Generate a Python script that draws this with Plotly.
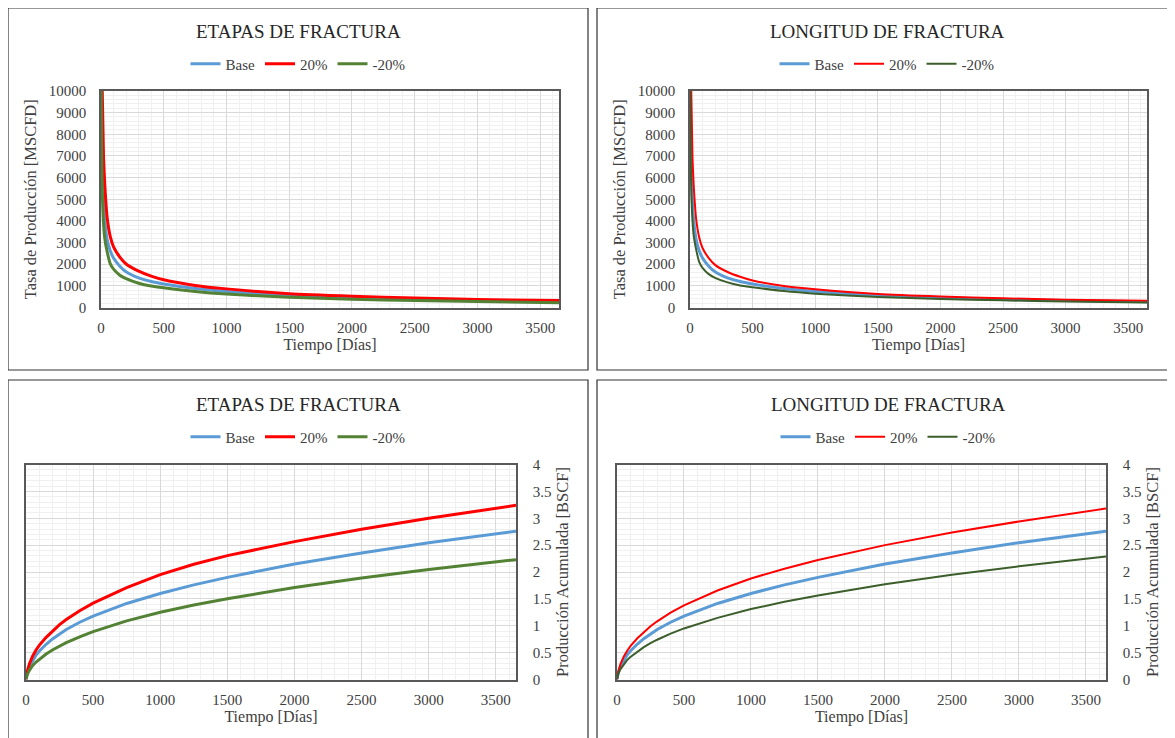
import plotly.graph_objects as go

# ---------------- data ----------------
series_names = ["Base", "20%", "-20%"]
panel_titles = ["ETAPAS DE FRACTURA", "LONGITUD DE FRACTURA"]

# Production rate [MSCFD] vs time [days]
t_rate_base = [3, 5, 10, 20, 30, 50, 75, 100, 150, 200, 300, 400, 500, 750, 1000, 1500, 2000, 2500, 3000, 3650]
q_base = [10000, 8000, 6300, 4800, 4000, 3100, 2600, 2290, 1910, 1650, 1370, 1200, 1090, 880, 740, 560, 455, 375, 318, 270]

t_rate_up = [10, 20, 30, 50, 75, 100, 150, 200, 300, 400, 500, 750, 1000, 1500, 2000, 2500, 3000, 3650]
q_etapas_up = [10000, 7000, 5700, 4100, 3250, 2800, 2330, 2010, 1680, 1450, 1280, 1020, 860, 640, 525, 435, 370, 320]
q_longitud_up = [10000, 6900, 5600, 4050, 3200, 2750, 2280, 1970, 1640, 1420, 1250, 990, 840, 625, 510, 425, 360, 312]

t_rate_down = [2, 5, 10, 20, 30, 50, 75, 100, 150, 200, 300, 400, 500, 750, 1000, 1500, 2000, 2500, 3000, 3650]
q_etapas_down = [10000, 7200, 5400, 3900, 3200, 2550, 2000, 1770, 1490, 1330, 1120, 990, 910, 740, 620, 476, 385, 320, 272, 225]
q_longitud_down = [10000, 7300, 5500, 4000, 3300, 2650, 2080, 1830, 1540, 1370, 1160, 1020, 940, 760, 640, 490, 395, 330, 280, 232]

# Cumulative production [BSCF] vs time [days]
t_cum = [0, 5, 10, 25, 50, 75, 100, 150, 200, 250, 300, 400, 500, 750, 1000, 1250, 1500, 2000, 2500, 3000, 3650]
cum_base = [0, 0.088, 0.133, 0.237, 0.36, 0.455, 0.53, 0.655, 0.76, 0.85, 0.93, 1.065, 1.18, 1.415, 1.60, 1.76, 1.90, 2.15, 2.355, 2.545, 2.76]
cum_etapas_up = [0, 0.10, 0.16, 0.29, 0.44, 0.55, 0.64, 0.785, 0.91, 1.02, 1.115, 1.28, 1.42, 1.71, 1.95, 2.145, 2.305, 2.565, 2.795, 3.00, 3.24]
cum_etapas_down = [0, 0.06, 0.095, 0.17, 0.26, 0.325, 0.38, 0.474, 0.554, 0.622, 0.685, 0.795, 0.89, 1.09, 1.25, 1.385, 1.503, 1.71, 1.887, 2.045, 2.23]
cum_longitud_up = [0, 0.095, 0.155, 0.28, 0.425, 0.53, 0.62, 0.763, 0.883, 0.99, 1.083, 1.243, 1.38, 1.655, 1.88, 2.062, 2.222, 2.50, 2.733, 2.94, 3.18]
cum_longitud_down = [0, 0.066, 0.105, 0.19, 0.287, 0.36, 0.42, 0.519, 0.602, 0.675, 0.74, 0.853, 0.95, 1.147, 1.31, 1.445, 1.564, 1.77, 1.947, 2.105, 2.29]

x_ticks = [0, 500, 1000, 1500, 2000, 2500, 3000, 3500]

# ---------------- layout helpers ----------------
W, H = 1175, 738
OFF = 8  # page body margin added by the browser
FONT = "Liberation Serif"
TXT = "#404040"
BLUE, RED = "#5B9BD5", "#FF0000"
GREEN_L, GREEN_R = "#548235", "#3B5E2B"


def fx(px):
    return (px - OFF) / W


def fy(py):
    return 1 - (py - OFF) / H


fig = go.Figure()

panels = [
    dict(xa="x", ya="y", lg="legend", box=(101, 559, 91, 307.5), kind="rate", title=panel_titles[0],
         t=[t_rate_base, t_rate_up, t_rate_down], v=[q_base, q_etapas_up, q_etapas_down],
         colors=[BLUE, RED, GREEN_L], widths=[3, 3, 3], frame=(8, 588, 8, 370), cx=298, ty=31, ly=64),
    dict(xa="x2", ya="y2", lg="legend2", box=(690, 1147, 91, 307.5), kind="rate", title=panel_titles[1],
         t=[t_rate_base, t_rate_up, t_rate_down], v=[q_base, q_longitud_up, q_longitud_down],
         colors=[BLUE, RED, GREEN_R], widths=[3, 2, 2], frame=(597, 1174, 8, 370), cx=887, ty=31, ly=64),
    dict(xa="x3", ya="y3", lg="legend3", box=(26, 516, 464.5, 679.5), kind="cum", title=panel_titles[0],
         t=[t_cum, t_cum, t_cum], v=[cum_base, cum_etapas_up, cum_etapas_down],
         colors=[BLUE, RED, GREEN_L], widths=[3, 3, 3], frame=(8, 588, 380, 745), cx=298, ty=404, ly=437),
    dict(xa="x4", ya="y4", lg="legend4", box=(617, 1106, 464.5, 679.5), kind="cum", title=panel_titles[1],
         t=[t_cum, t_cum, t_cum], v=[cum_base, cum_longitud_up, cum_longitud_down],
         colors=[BLUE, RED, GREEN_R], widths=[3, 2, 2], frame=(597, 1180, 380, 745), cx=888, ty=404, ly=437),
]

shapes = []
annotations = []
layout_axes = {}

for i, p in enumerate(panels):
    shape = "spline" if p["kind"] == "rate" else "linear"
    for name, tt, vv, c, w in zip(series_names, p["t"], p["v"], p["colors"], p["widths"]):
        fig.add_trace(go.Scatter(
            x=tt, y=vv, name=name, mode="lines",
            line=dict(color=c, width=w, shape=shape, smoothing=0.6) if shape == "spline"
            else dict(color=c, width=w, shape=shape),
            xaxis=p["xa"], yaxis=p["ya"], legend=p["lg"], showlegend=True,
        ))
    x0, x1, y0, y1 = p["box"]
    xkey = "xaxis" if p["xa"] == "x" else "xaxis" + p["xa"][1:]
    ykey = "yaxis" if p["ya"] == "y" else "yaxis" + p["ya"][1:]
    layout_axes[xkey] = dict(
        domain=[fx(x0), fx(x1)], anchor=p["ya"], range=[0, 3650],
        tickvals=x_ticks, showgrid=True, gridcolor="#D9D9D9", gridwidth=1,
        minor=dict(dtick=100, showgrid=True, gridcolor="#F0F0F0", gridwidth=1),
        showline=True, linecolor="#595959", linewidth=1.5, mirror=True,
        ticks="", ticklabelstandoff=6,
        tickfont=dict(family=FONT, size=15, color=TXT),
        title=dict(text="Tiempo [Días]", font=dict(family=FONT, size=16, color=TXT), standoff=3),
        zeroline=False, automargin=False,
    )
    if p["kind"] == "rate":
        layout_axes[ykey] = dict(
            domain=[fy(y1), fy(y0)], anchor=p["xa"], range=[0, 10000], dtick=1000, tickformat="d",
            showgrid=True, gridcolor="#D9D9D9", gridwidth=1,
            minor=dict(dtick=200, showgrid=True, gridcolor="#F0F0F0", gridwidth=1),
            showline=True, linecolor="#595959", linewidth=1.5, mirror=True,
            ticks="", ticklabelstandoff=10,
            tickfont=dict(family=FONT, size=15, color=TXT),
            title=dict(text="Tasa de Producción [MSCFD]", font=dict(family=FONT, size=16.5, color=TXT), standoff=8),
            zeroline=False, automargin=False,
        )
    else:
        layout_axes[ykey] = dict(
            domain=[fy(y1), fy(y0)], anchor=p["xa"], range=[0, 4], dtick=0.5, side="right",
            showgrid=True, gridcolor="#D9D9D9", gridwidth=1,
            minor=dict(dtick=0.1, showgrid=True, gridcolor="#F0F0F0", gridwidth=1),
            showline=True, linecolor="#595959", linewidth=1.5, mirror=True,
            ticks="", ticklabelstandoff=12,
            tickfont=dict(family=FONT, size=15, color=TXT),
            title=dict(text="Producción Acumulada [BSCF]", font=dict(family=FONT, size=16.5, color=TXT), standoff=6),
            zeroline=False, automargin=False,
        )
    fx0, fx1, fy0, fy1 = p["frame"]
    shapes.append(dict(type="rect", xref="paper", yref="paper", x0=fx(fx0), x1=fx(fx1), y0=fy(fy1), y1=fy(fy0),
                       line=dict(color="#333333", width=1.2), fillcolor="rgba(0,0,0,0)", layer="below"))
    annotations.append(dict(text=p["title"], x=fx(p["cx"]), y=fy(p["ty"]), xref="paper", yref="paper",
                            showarrow=False, xanchor="center", yanchor="middle",
                            font=dict(family=FONT, size=19, color="#262626")))
    layout_axes[p["lg"]] = dict(
        orientation="h", x=fx(p["cx"]), y=fy(p["ly"]), xanchor="center", yanchor="middle",
        font=dict(family=FONT, size=15, color=TXT), bgcolor="rgba(0,0,0,0)",
        itemwidth=30, tracegroupgap=0,
    )

fig.update_layout(
    width=W, height=H, margin=dict(l=0, r=0, t=0, b=0),
    paper_bgcolor="white", plot_bgcolor="white",
    shapes=shapes, annotations=annotations, **layout_axes,
)

fig.write_html("out.html")
